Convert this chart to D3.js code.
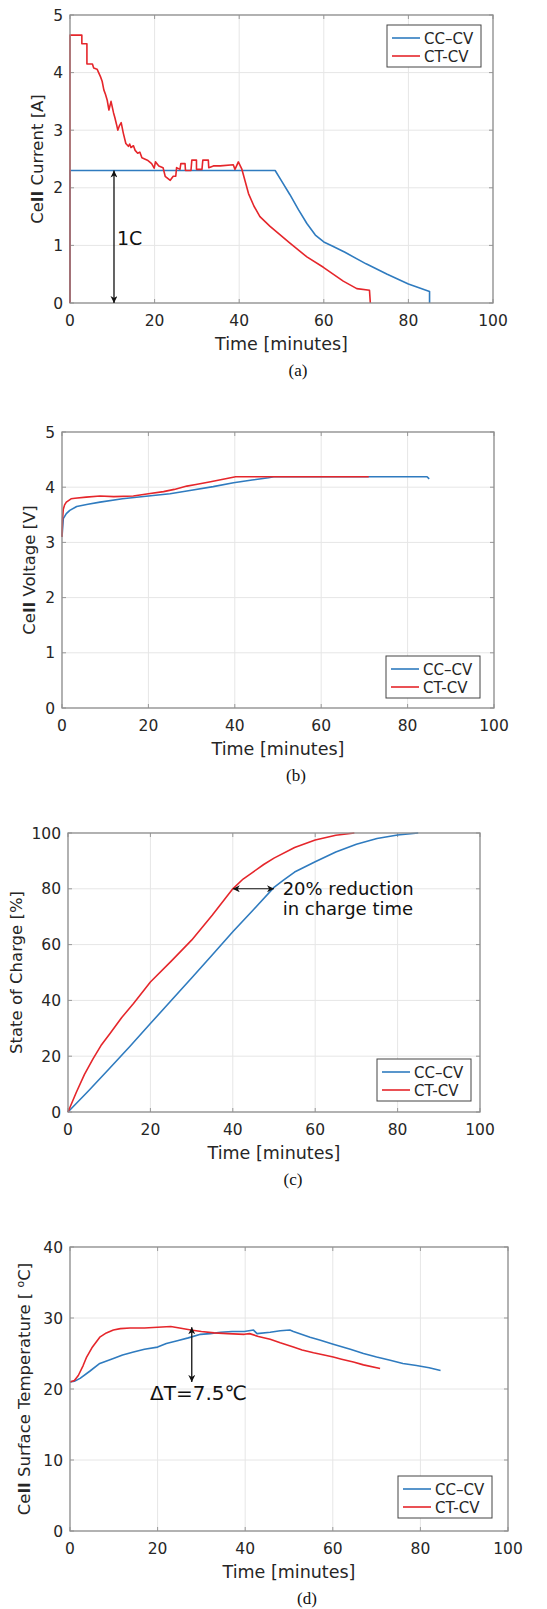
<!DOCTYPE html>
<html>
<head>
<meta charset="utf-8">
<script src="https://cdnjs.cloudflare.com/ajax/libs/d3/7.8.5/d3.min.js"></script>
<style>
  body { margin: 0; background: #fff; }
  svg { display: block; }
  text { font-family: "DejaVu Sans", sans-serif; fill: #262626; }
  .caption { font-family: "Liberation Serif", serif; fill: #111; }
</style>
</head>
<body>
<svg width="547" height="1609"></svg>
<script>
// ---- data ----
const timeTicks = [0, 20, 40, 60, 80, 100];
const currentTicks = [0, 1, 2, 3, 4, 5];
const voltageTicks = [0, 1, 2, 3, 4, 5];
const socTicks = [0, 20, 40, 60, 80, 100];
const tempTicks = [0, 10, 20, 30, 40];
const seriesNames = ["CC–CV", "CT-CV"];

// [time (min), current (A)]
const currentCCCV = [[0,0],[0,2.3],[48.5,2.3],[50,2.12],[52,1.88],[54,1.62],[56,1.38],[58,1.18],[60,1.06],
  [62,0.99],[65,0.88],[70,0.68],[75,0.5],[80,0.33],[83,0.25],[85,0.2],[85,0]];
const currentCTCV = [[0,0],[0,4.65],[2.8,4.65],[2.8,4.5],[4,4.5],[4,4.15],[5.3,4.15],[5.6,4.08],[6.4,4.06],
  [7.2,3.93],[7.6,3.85],[8,3.7],[8.4,3.62],[8.8,3.52],[9.2,3.35],[9.7,3.5],[10.3,3.3],[10.6,3.22],[11,3.1],
  [11.3,3.0],[11.7,3.08],[12.1,3.13],[12.6,2.95],[13.2,2.77],[13.8,2.72],[14.1,2.76],[14.4,2.7],[15,2.73],
  [15.4,2.65],[16,2.6],[16.5,2.62],[17,2.52],[18.3,2.48],[19.3,2.42],[19.9,2.34],
  [20.2,2.45],[21,2.38],[22,2.35],[22.5,2.2],[23.7,2.13],[24.4,2.2],[25,2.2],[25.2,2.35],[26,2.32],
  [26.2,2.42],[27.2,2.42],[27.3,2.3],[28.6,2.3],[28.8,2.48],[29.9,2.48],[29.9,2.32],[31.2,2.32],[31.4,2.48],
  [32.7,2.48],[32.8,2.35],[33.9,2.38],[35.5,2.38],[38.6,2.4],[39,2.32],[39.8,2.45],[40.6,2.33],[42.2,1.9],
  [43.5,1.68],[44.9,1.5],[47.3,1.33],[52,1.04],[56,0.8],[59.9,0.62],[64.6,0.38],[67.8,0.25],[70.8,0.22],[71,0]];

// [time (min), voltage (V)]
const voltageCCCV = [[0,3.1],[0.3,3.43],[1,3.52],[1.8,3.58],[3.4,3.65],[6,3.69],[8.8,3.73],[14,3.79],[20,3.84],
  [25,3.88],[29.6,3.94],[35,4.01],[39.7,4.08],[44,4.13],[47.8,4.17],[49,4.19],[84.5,4.19],[85,4.15]];
const voltageCTCV = [[0,3.1],[0.1,3.4],[0.3,3.6],[0.6,3.68],[1,3.73],[2.1,3.79],[3,3.8],[5.6,3.82],[8.8,3.84],
  [12,3.83],[16.5,3.84],[20,3.88],[23.5,3.92],[26,3.96],[28.9,4.02],[31,4.05],[34.4,4.1],[37,4.14],[40.2,4.19],[71,4.19]];

// [time (min), state of charge (%)]
const socCCCV = [[0,0],[5,7.6],[10,15.5],[15,23.5],[20,31.7],[25,39.9],[30,48],[35,56.3],[40,64.6],[45,72.5],
  [50,80.5],[52.3,83.1],[55,86],[60,89.7],[65,93.2],[70,96],[75,98],[80,99.3],[85,100]];
const socCTCV = [[0,0],[2,7],[4,13.5],[6.1,19.1],[8,23.8],[10.2,28.1],[13,33.8],[15.9,38.9],[20,46.6],[25,54],
  [30,61.6],[35,70.5],[40,80],[42.5,83.5],[45,86.1],[47.5,88.7],[50,91],[55,94.8],[60,97.5],[65,99.2],[69.5,100]];

// [time (min), surface temperature (degC)]
const tempCCCV = [[0,21],[1,21.1],[2.3,21.5],[4.5,22.5],[6.8,23.6],[9.9,24.3],[12,24.8],[14.5,25.2],[17,25.6],
  [20,25.9],[22,26.4],[24.5,26.8],[27,27.2],[29.8,27.7],[32,27.8],[34.4,28],[37,28.1],[39.8,28.1],[41.9,28.3],
  [42.7,27.8],[45.7,28],[48,28.2],[50.2,28.3],[51,28.1],[54.8,27.3],[57,26.9],[60.1,26.3],[64,25.6],[67,25],
  [70,24.5],[73.1,24.05],[76,23.6],[79.1,23.3],[82,23],[84.6,22.6]];
const tempCTCV = [[0,21],[1,21.2],[1.9,21.9],[3,23.3],[3.8,24.5],[5,25.8],[6.8,27.3],[8.3,27.9],[9.9,28.3],
  [11.5,28.5],[13.7,28.6],[17,28.6],[20,28.7],[23,28.8],[25,28.6],[27.6,28.3],[30,28.1],[32.9,27.9],[36,27.8],
  [39.8,27.7],[41,27.8],[43,27.4],[45.7,27],[48,26.5],[51,25.9],[53,25.5],[55.6,25.1],[58,24.8],[60.1,24.5],
  [62,24.2],[64.7,23.8],[67,23.4],[70.8,22.9]];

// ---- drawing ----
const svg = d3.select("svg");
const blue = "#2f7bbf";
const red = "#e5262b";

const defs = svg.append("defs");
defs.append("marker")
  .attr("id", "head")
  .attr("viewBox", "0 0 10 10")
  .attr("refX", 10).attr("refY", 5)
  .attr("markerWidth", 7).attr("markerHeight", 7)
  .attr("markerUnits", "userSpaceOnUse")
  .attr("orient", "auto-start-reverse")
  .append("path")
  .attr("d", "M0,0 L10,5 L0,10 L3,5 Z")
  .attr("fill", "#111");

function drawPanel(p) {
  let x = d3.scaleLinear().domain([0, 100]).range([p.left, p.right]);
  let y = d3.scaleLinear().domain(p.yDomain).range([p.bottom, p.top]);
  let g = svg.append("g");

  // grid
  g.selectAll(".gx").data(timeTicks).enter().append("line")
    .attr("x1", d => x(d)).attr("x2", d => x(d))
    .attr("y1", p.top).attr("y2", p.bottom)
    .attr("stroke", "#e6e6e6");
  g.selectAll(".gy").data(p.yTicks).enter().append("line")
    .attr("x1", p.left).attr("x2", p.right)
    .attr("y1", d => y(d)).attr("y2", d => y(d))
    .attr("stroke", "#e6e6e6");

  // small inward ticks (matlab style)
  let tl = 4;
  timeTicks.forEach(t => {
    g.append("line").attr("x1", x(t)).attr("x2", x(t)).attr("y1", p.bottom).attr("y2", p.bottom - tl).attr("stroke", "#999");
    g.append("line").attr("x1", x(t)).attr("x2", x(t)).attr("y1", p.top).attr("y2", p.top + tl).attr("stroke", "#999");
  });
  p.yTicks.forEach(v => {
    g.append("line").attr("x1", p.left).attr("x2", p.left + tl).attr("y1", y(v)).attr("y2", y(v)).attr("stroke", "#999");
    g.append("line").attr("x1", p.right).attr("x2", p.right - tl).attr("y1", y(v)).attr("y2", y(v)).attr("stroke", "#999");
  });

  // curves
  let line = d3.line().x(d => x(d[0])).y(d => y(d[1]));
  g.append("path").datum(p.series[0]).attr("d", line)
    .attr("fill", "none").attr("stroke", blue).attr("stroke-width", 1.6).attr("stroke-linejoin", "round");
  g.append("path").datum(p.series[1]).attr("d", line)
    .attr("fill", "none").attr("stroke", red).attr("stroke-width", 1.6).attr("stroke-linejoin", "round");

  // box
  g.append("rect")
    .attr("x", p.left).attr("y", p.top)
    .attr("width", p.right - p.left).attr("height", p.bottom - p.top)
    .attr("fill", "none").attr("stroke", "#8f8f8f").attr("stroke-width", 1.3);

  // tick labels
  g.selectAll(".tx").data(timeTicks).enter().append("text")
    .attr("x", d => x(d)).attr("y", p.bottom + 23)
    .attr("text-anchor", "middle").style("font-size", "15.5px")
    .text(d => d);
  g.selectAll(".ty").data(p.yTicks).enter().append("text")
    .attr("x", p.left - 7).attr("y", d => y(d) + 5.5)
    .attr("text-anchor", "end").style("font-size", "15.5px")
    .text(d => d);

  // axis titles
  g.append("text")
    .attr("x", (p.left + p.right) / 2).attr("y", p.bottom + 47)
    .attr("text-anchor", "middle").style("font-size", "17.5px")
    .text("Time [minutes]");

  let yt = g.append("text")
    .attr("transform", `translate(${p.yTitleX},${(p.top + p.bottom) / 2}) rotate(-90)`)
    .attr("text-anchor", "middle").style("font-size", "16.5px");
  p.yTitle.forEach(part => {
    let ts = yt.append("tspan").text(part.t);
    if (part.bold) ts.style("font-weight", "bold");
    if (part.sup) ts.attr("baseline-shift", "super").style("font-size", "11px");
  });

  g.append("text").attr("class", "caption")
    .attr("x", p.captionX).attr("y", p.bottom + 73)
    .attr("text-anchor", "middle").style("font-size", "17px")
    .text(p.caption);

  // legend
  let lg = g.append("g").attr("transform", `translate(${p.legend[0]},${p.legend[1]})`);
  lg.append("rect").attr("width", 94).attr("height", 42)
    .attr("fill", "#fff").attr("stroke", "#444").attr("stroke-width", 1);
  [blue, red].forEach((c, i) => {
    lg.append("line").attr("x1", 5).attr("x2", 33).attr("y1", 13 + i * 18).attr("y2", 13 + i * 18)
      .attr("stroke", c).attr("stroke-width", 1.6);
    lg.append("text").attr("x", 37).attr("y", 18.5 + i * 18).style("font-size", "15px").text(seriesNames[i]);
  });

  return { g, x, y };
}

// (a) current
let pa = drawPanel({
  left: 70, right: 493, top: 15, bottom: 303,
  yDomain: [0, 5], yTicks: currentTicks,
  series: [currentCCCV, currentCTCV],
  yTitle: [{ t: "Ce" }, { t: "ll", bold: true }, { t: " Current [A]" }],
  yTitleX: 43, caption: "(a)", captionX: 298, legend: [387, 25]
});
pa.g.append("line")
  .attr("x1", pa.x(10.4)).attr("x2", pa.x(10.4))
  .attr("y1", pa.y(2.3)).attr("y2", pa.y(0))
  .attr("stroke", "#111").attr("stroke-width", 1.3)
  .attr("marker-start", "url(#head)").attr("marker-end", "url(#head)");
pa.g.append("text")
  .attr("x", pa.x(11.1)).attr("y", pa.y(1.12) + 7)
  .style("font-size", "19px").style("fill", "#111")
  .text("1C");

// (b) voltage
drawPanel({
  left: 62, right: 494, top: 432, bottom: 708,
  yDomain: [0, 5], yTicks: voltageTicks,
  series: [voltageCCCV, voltageCTCV],
  yTitle: [{ t: "Ce" }, { t: "ll", bold: true }, { t: " Voltage [V]" }],
  yTitleX: 35, caption: "(b)", captionX: 296, legend: [386, 656]
});

// (c) state of charge
let pc = drawPanel({
  left: 68, right: 480, top: 833, bottom: 1112,
  yDomain: [0, 100], yTicks: socTicks,
  series: [socCCCV, socCTCV],
  yTitle: [{ t: "State of Charge [%]" }],
  yTitleX: 22, caption: "(c)", captionX: 293, legend: [377, 1059]
});
pc.g.append("line")
  .attr("x1", pc.x(40)).attr("x2", pc.x(50))
  .attr("y1", pc.y(80)).attr("y2", pc.y(80))
  .attr("stroke", "#111").attr("stroke-width", 1.1)
  .attr("marker-start", "url(#head)").attr("marker-end", "url(#head)");
pc.g.append("text")
  .attr("x", pc.x(52.1)).attr("y", pc.y(80) + 6)
  .style("font-size", "18px").style("fill", "#111")
  .text("20% reduction");
pc.g.append("text")
  .attr("x", pc.x(52.1)).attr("y", pc.y(80) + 26)
  .style("font-size", "18px").style("fill", "#111")
  .text("in charge time");

// (d) temperature
let pd = drawPanel({
  left: 70, right: 508, top: 1247, bottom: 1531,
  yDomain: [0, 40], yTicks: tempTicks,
  series: [tempCCCV, tempCTCV],
  yTitle: [{ t: "Ce" }, { t: "ll", bold: true }, { t: " Surface Temperature [ " }, { t: "o", sup: true }, { t: "C]" }],
  yTitleX: 30, caption: "(d)", captionX: 307, legend: [398, 1476]
});
pd.g.append("line")
  .attr("x1", pd.x(27.8)).attr("x2", pd.x(27.8))
  .attr("y1", pd.y(28.7)).attr("y2", pd.y(21))
  .attr("stroke", "#111").attr("stroke-width", 1.3)
  .attr("marker-start", "url(#head)").attr("marker-end", "url(#head)");
pd.g.append("text")
  .attr("x", 150).attr("y", pd.y(18.4))
  .style("font-size", "20px").style("fill", "#111")
  .text("ΔT=7.5℃");
</script>
</body>
</html>
